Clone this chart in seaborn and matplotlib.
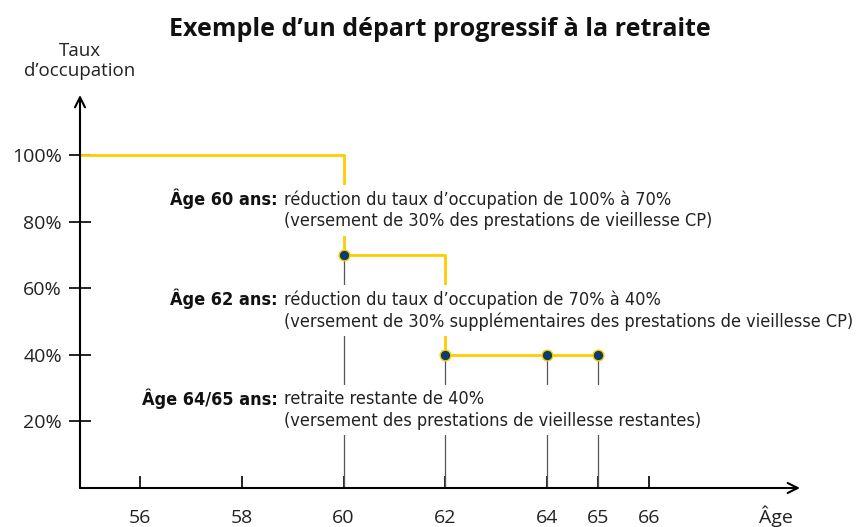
import numpy as np
import pandas as pd
import seaborn as sns
import matplotlib.pyplot as plt

# donnees du graphique
ages_palier = [54.82, 60, 62, 65]
taux_palier = [100, 70, 40, 40]
ages_points = [60, 62, 64, 65]
taux_points = [70, 40, 40, 40]
ticks_age = [56, 58, 60, 62, 64, 65, 66]
ticks_taux = [20, 40, 60, 80, 100]

etapes = [
    ("Âge 60 ans:", "réduction du taux d’occupation de 100% à 70%\n(versement de 30% des prestations de vieillesse CP)"),
    ("Âge 62 ans:", "réduction du taux d’occupation de 70% à 40%\n(versement de 30% supplémentaires des prestations de vieillesse CP)"),
    ("Âge 64/65 ans:", "retraite restante de 40%\n(versement des prestations de vieillesse restantes)"),
]

JAUNE = "#FFCC00"
BLEU = "#0B3D6B"
XMIN, XMAX = 54.82, 68.97
YMIN, YMAX = 0, 118

sns.set_theme(style="white")
plt.rcParams["font.family"] = ["Open Sans", "DejaVu Sans"]

fig = plt.figure(figsize=(8.58, 5.27), dpi=100)
ax = fig.add_axes([80 / 858, 1 - 488 / 527, 720 / 858, 393 / 527])
ax.set_xlim(XMIN, XMAX)
ax.set_ylim(YMIN, YMAX)
for s in ax.spines.values():
    s.set_visible(False)

# lignes grises verticales
ax.vlines(ages_points, 0, taux_points, color="#555555", lw=0.9, zorder=1)

df = pd.DataFrame({"age": ages_palier, "taux": taux_palier})
sns.lineplot(data=df, x="age", y="taux", drawstyle="steps-post", color=JAUNE,
             lw=2, estimator=None, sort=False, ax=ax, zorder=2)

dfp = pd.DataFrame({"age": ages_points, "taux": taux_points})
sns.scatterplot(data=dfp, x="age", y="taux", color=BLEU, edgecolor=JAUNE,
                linewidth=1, s=60, ax=ax, zorder=5, clip_on=False)

# axes avec fleches
for fin in [(XMAX, 0), (XMIN, YMAX)]:
    ax.annotate("", xy=fin, xytext=(XMIN, 0),
                arrowprops=dict(arrowstyle="->", lw=1.5, color="black",
                                shrinkA=0, shrinkB=0, mutation_scale=18),
                annotation_clip=False, zorder=6)

ax.set_xticks(ticks_age)
ax.set_xticklabels([str(a) for a in ticks_age])
ax.set_yticks(ticks_taux)
ax.set_yticklabels([f"{t}%" for t in ticks_taux])
ax.tick_params(axis="x", direction="in", length=9, width=1.2, color="black",
               pad=15, labelsize=14, bottom=True, labelcolor="#222222")
ax.tick_params(axis="y", direction="inout", length=16, width=1.2, color="black",
               pad=5, labelsize=14, left=True, labelcolor="#222222")
ax.set_xlabel("")
ax.set_ylabel("")

ax.text(68.5, -8.4, "Âge", ha="center", va="center", fontsize=14,
        color="#222222", clip_on=False)
ax.text(XMIN, 128.2, "Taux\nd’occupation", ha="center", va="center",
        fontsize=13.5, color="#222222", linespacing=1.12, clip_on=False)

# textes explicatifs
cond = dict(family="DejaVu Sans", fontstretch="condensed", fontsize=13)
y_textes = [83.4, 53.3, 23.4]
for (titre, detail), yt in zip(etapes, y_textes):
    ax.text(58.70, yt + 3.4, titre, ha="right", va="center",
            fontweight="bold", color="#111111", zorder=4, **cond)
    ax.text(58.82, yt, detail, ha="left", va="center",
            color="#222222", linespacing=1.27, zorder=3, **cond,
            bbox=dict(boxstyle="square,pad=0.3", fc="white", ec="none"))

fig.text(440 / 858, 1 - 30 / 527, "Exemple d’un départ progressif à la retraite",
         ha="center", va="center", fontsize=18, fontweight="bold", color="#111111")

fig.savefig("out.png", dpi=100)
